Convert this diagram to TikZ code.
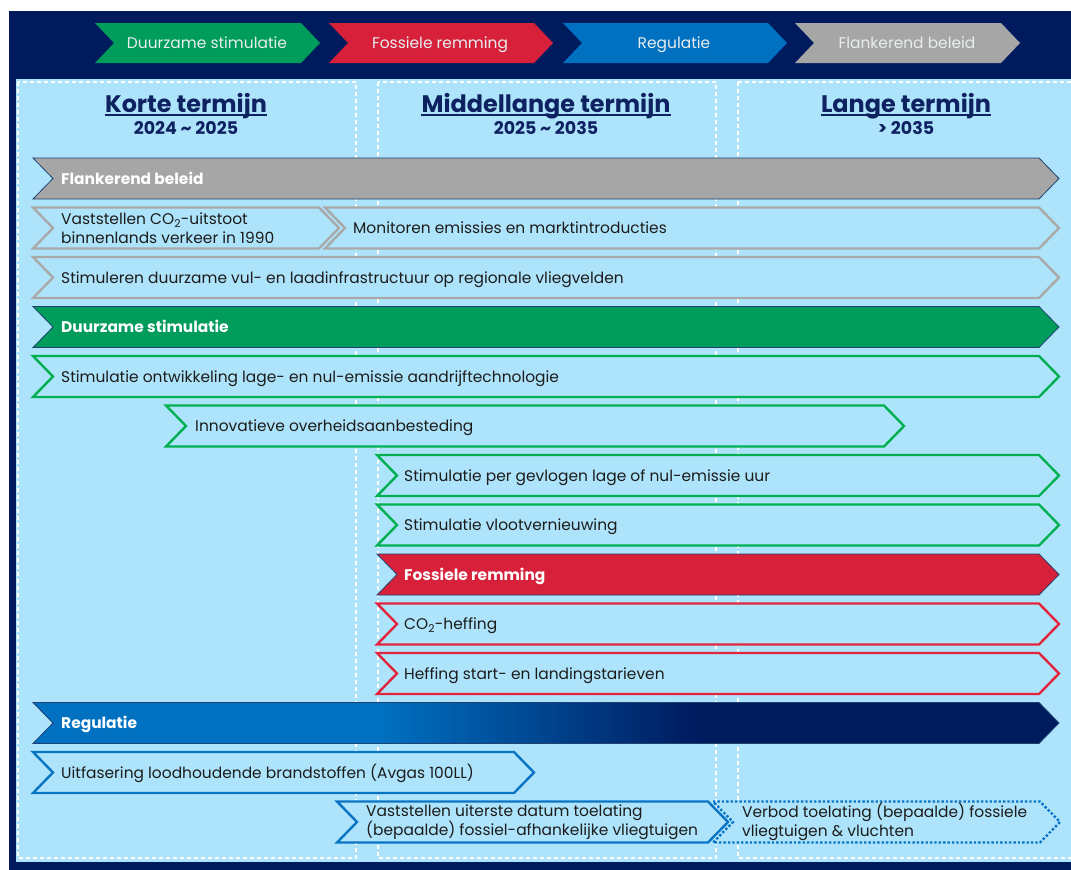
\documentclass[tikz,border=0pt]{standalone}
\usepackage{fontspec}
\setmainfont{Poppins}
\definecolor{navy}{HTML}{001A5E}
\definecolor{panel}{HTML}{AEE4FB}
\definecolor{gfill}{HTML}{009C5B}
\definecolor{gline}{HTML}{00B050}
\definecolor{rfill}{HTML}{D7213B}
\definecolor{rline}{HTML}{E2243C}
\definecolor{bfill}{HTML}{0070C0}
\definecolor{bline}{HTML}{0A74C4}
\definecolor{grayf}{HTML}{A6A6A6}
\definecolor{grayl}{HTML}{A9A9A9}
\definecolor{txt}{HTML}{1C1C1C}
\definecolor{hdr}{HTML}{0E2160}
\definecolor{bandtxt}{HTML}{E8EEF0}
\definecolor{bordr}{HTML}{1F4270}
\pgfdeclarehorizontalshading{regshade}{100bp}{color(0bp)=(bfill); color(25bp)=(bfill); color(42bp)=(bfill); color(57.5bp)=(navy); color(100bp)=(navy)}
\newcommand\chevbar[4]{%
  \draw[#1] (#2,#4) -- ({#3-20},#4) -- (#3,{#4+20.5}) -- ({#3-20},{#4+41}) -- (#2,{#4+41}) -- ({#2+20},{#4+20.5}) -- cycle;}
\newcommand\topchev[3]{%
  \fill[#1] (#2,23) -- ({#3-19},23) -- (#3,43) -- ({#3-19},63) -- (#2,63) -- ({#2+19},43) -- cycle;}
\begin{document}
\begin{tikzpicture}[x=1bp,y=-1bp,
  outl/.style={line width=2.4bp, fill=panel, line join=miter, draw=#1},
  filled/.style={fill=#1, draw=bordr, line width=0.8bp},
  lbl/.style={anchor=base west, inner sep=0pt, font=\fontsize{15.5}{19}\selectfont, text=txt},
  lbltwo/.style={anchor=west, align=left, inner sep=0pt, font=\fontsize{15.5}{19}\selectfont, text=txt},
  blbl/.style={anchor=base west, inner sep=0pt, font=\fontsize{15.5}{19}\selectfont\bfseries, text=white},
  toplbl/.style={anchor=base, inner sep=0pt, font=\fontsize{15.5}{19}\selectfont, text=bandtxt},
  hd/.style={anchor=base, inner sep=0pt, font=\fontsize{24}{28}\selectfont\bfseries, text=hdr},
  yr/.style={anchor=base, inner sep=0pt, font=\fontsize{17.5}{20}\selectfont\bfseries, text=hdr},
  coldash/.style={draw=white, line width=1.4bp, dash pattern=on 4bp off 3bp}]
\useasboundingbox (0,0) rectangle (1071,870);
\fill[white] (0,0) rectangle (1071,870);
\fill[navy] (9,11) rectangle (1071,870);
\fill[panel] (16,79) rectangle (1071,862);
% columns
\draw[coldash] (18,82) rectangle (356,858);
\draw[coldash] (378,82) rectangle (716,858);
\draw[coldash] (738,82) -- (1075,82) (738,82) -- (738,858) -- (1075,858);
% top legend
\topchev{gfill}{95}{320}
\topchev{rfill}{329}{553}
\topchev{bfill}{563}{787}
\topchev{grayf}{795}{1020}
\node[toplbl] (t1) at (207,48) {Duurzame stimulatie};
\node[toplbl] (t2) at (440,48) {Fossiele remming};
\node[toplbl] (t3) at (674,48) {Regulatie};
\node[toplbl] (t4) at (907,48) {Flankerend beleid};
% headers
\node[hd] (h1) at (186,112) {Korte termijn};
\node[hd] (h2) at (546,112) {Middellange termijn};
\node[hd] (h3) at (906,112) {Lange termijn};
\foreach \h in {h1,h2,h3}{\draw[hdr, line width=1.2bp] ([yshift=-3bp]\h.base west) -- ([yshift=-3bp]\h.base east);}
\node[yr] (y1) at (186,134) {2024 \char"007E{} 2025};
\node[yr] (y2) at (546,134) {2025 \char"007E{} 2035};
\node[yr] (y3) at (906,134) {> 2035};
% rows
\chevbar{filled=grayf}{33}{1059}{158}
\node[blbl] (r0) at (61,184) {Flankerend beleid};
\chevbar{outl=grayl}{33}{339}{207.5}
\chevbar{outl=grayl}{325}{1059}{207.5}
\node[lbltwo] (r1a) at (61,228) {Vaststellen CO\textsubscript{2}-uitstoot\\binnenlands verkeer in 1990};
\node[lbl] (r1b) at (353,233.5) {Monitoren emissies en marktintroducties};
\chevbar{outl=grayl}{33}{1059}{257}
\node[lbl] (r2) at (61,283) {Stimuleren duurzame vul- en laadinfrastructuur op regionale vliegvelden};
\chevbar{filled=gfill}{33}{1059}{306.5}
\node[blbl] (r3) at (61,332.5) {Duurzame stimulatie};
\chevbar{outl=gline}{33}{1059}{356}
\node[lbl] (r4) at (61,382) {Stimulatie ontwikkeling lage- en nul-emissie aandrijftechnologie};
\chevbar{outl=gline}{166}{904}{405.5}
\node[lbl] (r5) at (195,431.5) {Innovatieve overheidsaanbesteding};
\chevbar{outl=gline}{377}{1059}{455}
\node[lbl] (r6) at (404,481) {Stimulatie per gevlogen lage of nul-emissie uur};
\chevbar{outl=gline}{377}{1059}{504.5}
\node[lbl] (r7) at (404,530.5) {Stimulatie vlootvernieuwing};
\chevbar{filled=rfill}{377}{1059}{554}
\node[blbl] (r8) at (404,580) {Fossiele remming};
\chevbar{outl=rline}{377}{1059}{603.5}
\node[lbl] (r9) at (404,629.5) {CO\textsubscript{2}-heffing};
\chevbar{outl=rline}{377}{1059}{653}
\node[lbl] (r10) at (404,679) {Heffing start- en landingstarieven};
\chevbar{shade, shading=regshade, draw=bordr, line width=0.8bp}{33}{1059}{702.5}
\node[blbl] (r11) at (61,728.5) {Regulatie};
\chevbar{outl=bline}{33}{534}{752}
\node[lbl] (r12) at (61,778) {Uitfasering loodhoudende brandstoffen (Avgas 100LL)};
\chevbar{outl=bline, dotted}{713}{1060}{801.5}
\chevbar{outl=bline}{337}{728}{801.5}
\node[lbltwo] (r13a) at (366,822) {Vaststellen uiterste datum toelating\\(bepaalde) fossiel-afhankelijke vliegtuigen};
\node[lbltwo] (r13b) at (742,822) {Verbod toelating (bepaalde) fossiele\\vliegtuigen \& vluchten};
\end{tikzpicture}
\end{document}
